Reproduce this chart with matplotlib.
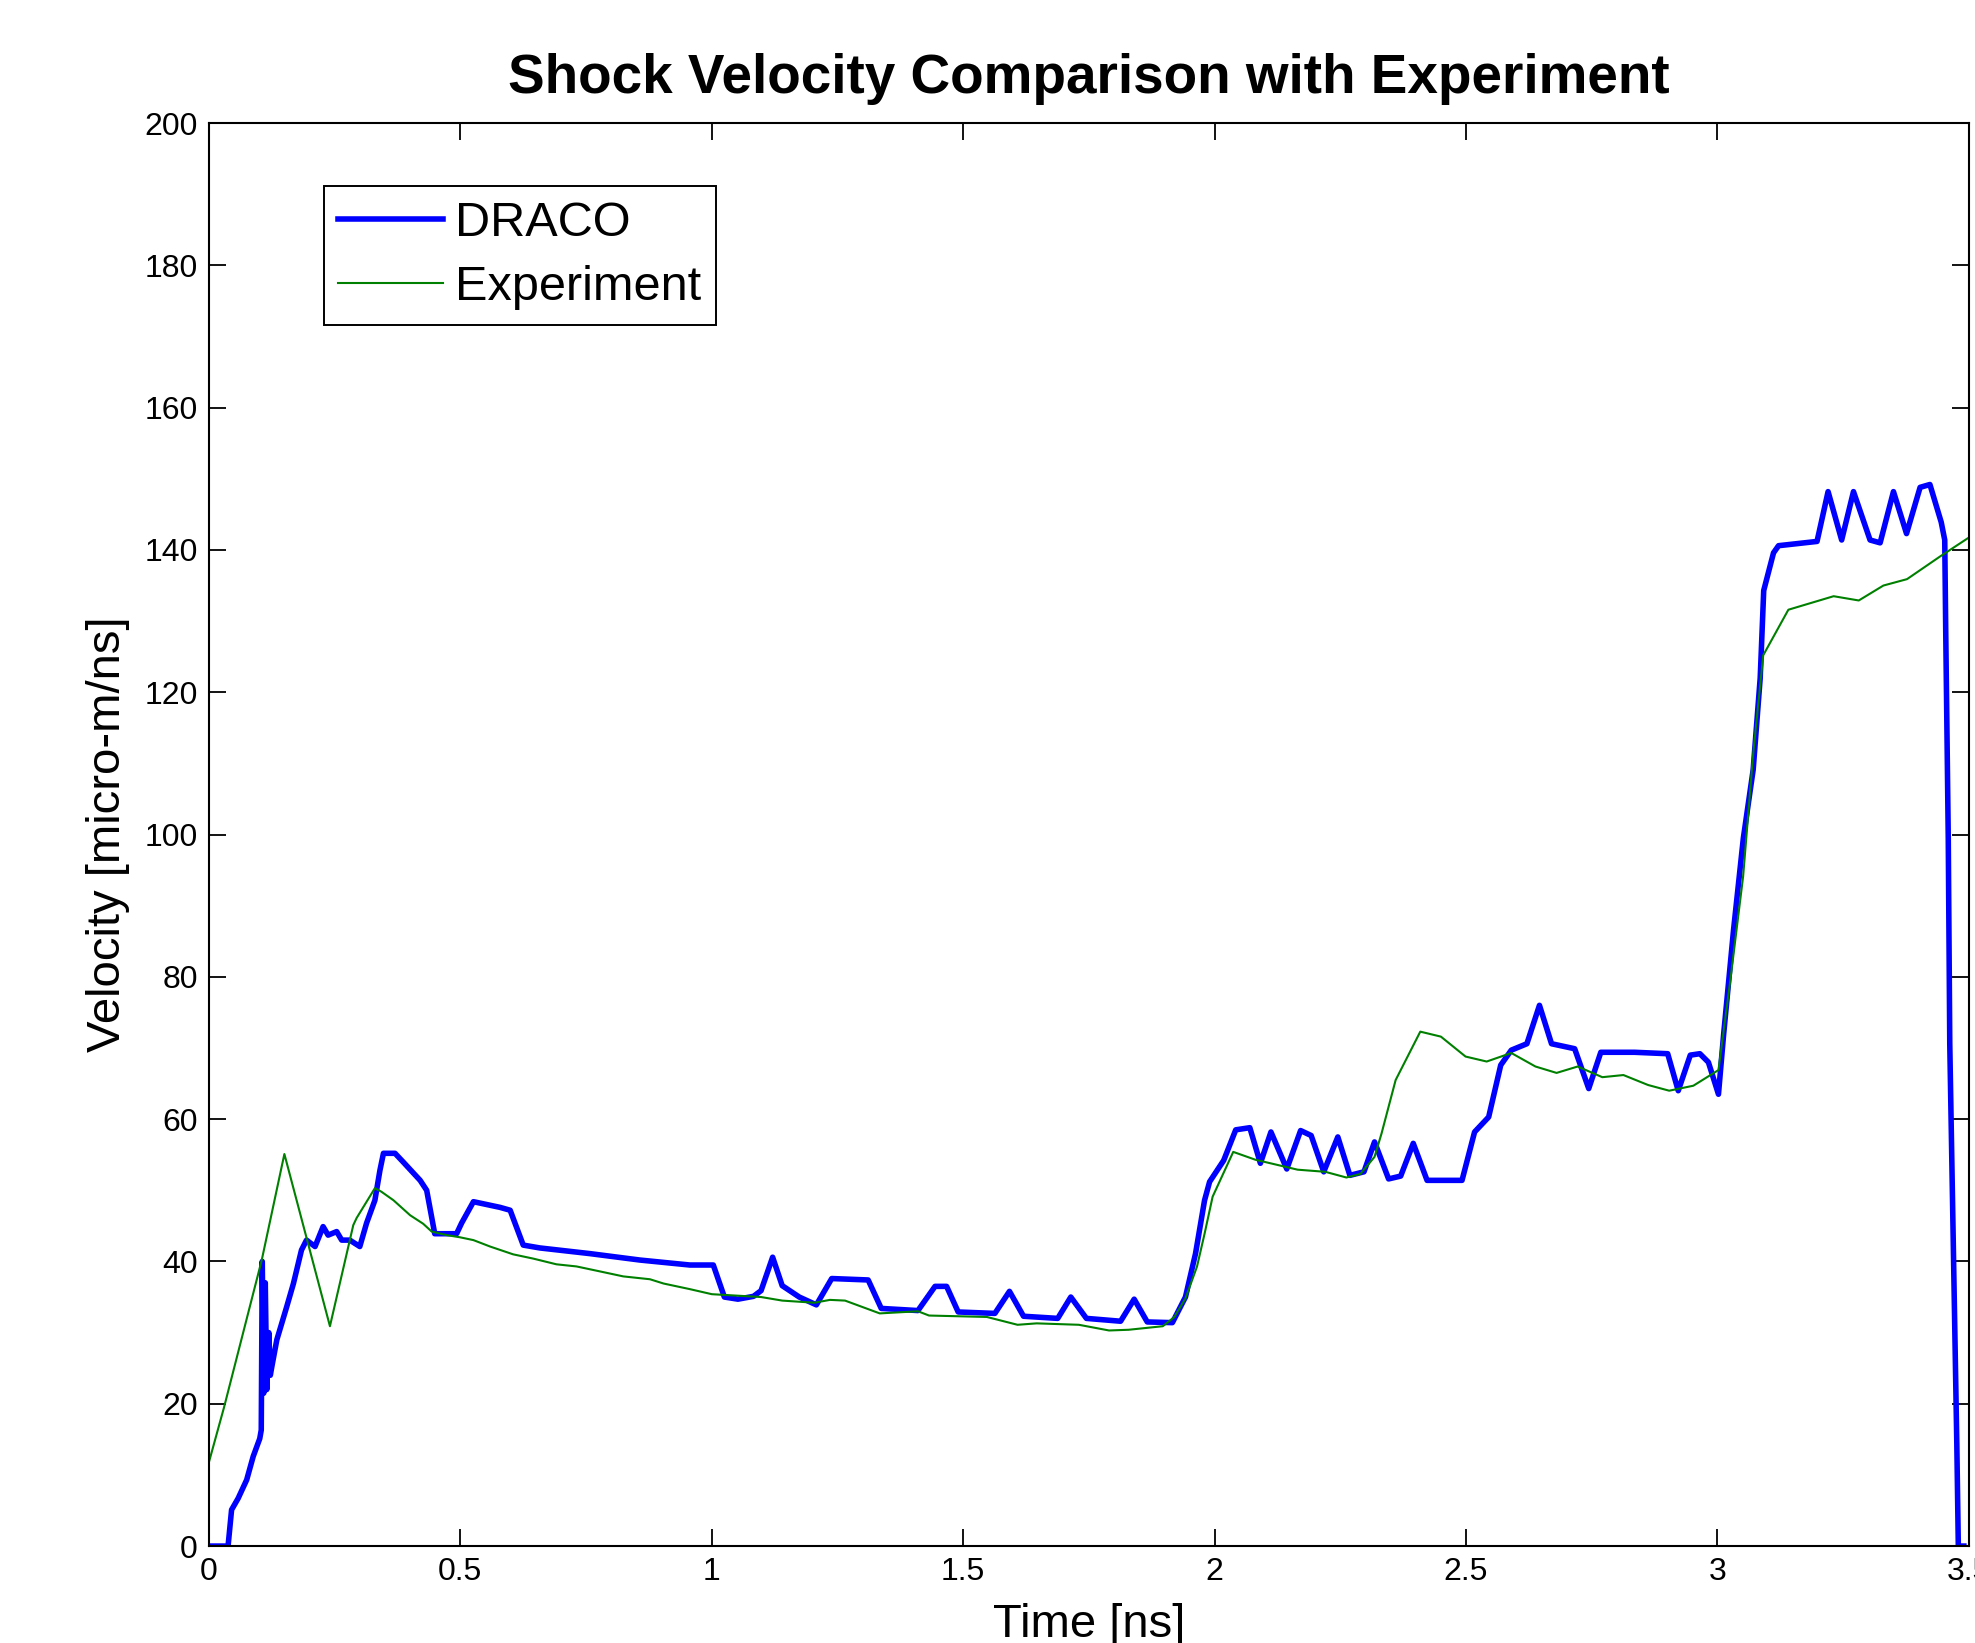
import matplotlib
matplotlib.use("Agg")
import matplotlib.pyplot as plt
from matplotlib.ticker import FormatStrFormatter

plt.rcParams["font.family"] = ["Liberation Sans", "DejaVu Sans"]

# DRACO simulation, shock velocity vs time
draco_t = [0.0, 0.038, 0.045, 0.058, 0.075, 0.088, 0.101, 0.104, 0.106, 0.109,
           0.112, 0.115, 0.119, 0.122, 0.125, 0.135, 0.1545, 0.168, 0.184, 0.194,
           0.211, 0.227, 0.237, 0.254, 0.264, 0.280, 0.300, 0.3135, 0.330, 0.340,
           0.347, 0.370, 0.386, 0.420, 0.433, 0.449, 0.4925, 0.5025, 0.526, 0.5455,
           0.579, 0.599, 0.625, 0.658, 0.758, 0.857, 0.9565, 1.003, 1.025, 1.052,
           1.083, 1.098, 1.121, 1.140, 1.174, 1.208, 1.2385, 1.311, 1.337, 1.410,
           1.444, 1.467, 1.490, 1.563, 1.592, 1.620, 1.688, 1.714, 1.745, 1.813,
           1.840, 1.866, 1.916, 1.942, 1.962, 1.980, 1.990, 2.018, 2.042, 2.070,
           2.091, 2.112, 2.1435, 2.171, 2.192, 2.217, 2.245, 2.269, 2.297, 2.318,
           2.346, 2.370, 2.395, 2.4225, 2.492, 2.517, 2.545, 2.569, 2.590, 2.621,
           2.646, 2.670, 2.716, 2.744, 2.768, 2.835, 2.901, 2.922, 2.946, 2.965,
           2.982, 3.002, 3.012, 3.032, 3.0515, 3.071, 3.085, 3.092, 3.1115, 3.1215,
           3.198, 3.220, 3.247, 3.2705, 3.3035, 3.3235, 3.350, 3.376, 3.403, 3.4225,
           3.445, 3.452, 3.454, 3.459, 3.462, 3.469, 3.476, 3.479, 3.49]
draco_v = [0.0, 0.0, 5.1, 6.7, 9.3, 12.6, 15.1, 16.3, 40.0, 21.5,
           37.0, 22.0, 30.0, 24.0, 25.2, 29.0, 33.6, 36.9, 41.6, 43.0,
           42.1, 44.9, 43.7, 44.2, 43.0, 43.0, 42.1, 45.4, 48.6, 52.8,
           55.2, 55.2, 54.0, 51.4, 50.0, 43.9, 43.9, 45.4, 48.4, 48.1,
           47.6, 47.2, 42.3, 41.9, 41.1, 40.2, 39.5, 39.5, 35.0, 34.7,
           35.1, 35.9, 40.6, 36.6, 35.0, 33.9, 37.6, 37.4, 33.4, 33.1,
           36.5, 36.5, 32.9, 32.7, 35.8, 32.3, 32.0, 35.0, 32.0, 31.6,
           34.7, 31.5, 31.4, 35.0, 41.1, 48.6, 51.2, 54.2, 58.5, 58.8,
           53.8, 58.2, 53.0, 58.4, 57.7, 52.6, 57.5, 52.1, 52.6, 56.8,
           51.6, 52.0, 56.6, 51.4, 51.4, 58.2, 60.3, 67.6, 69.7, 70.6,
           76.0, 70.6, 69.9, 64.3, 69.4, 69.4, 69.2, 64.0, 69.0, 69.2,
           68.0, 63.5, 71.7, 86.6, 99.5, 109.1, 122.0, 134.3, 139.6, 140.6,
           141.2, 148.2, 141.4, 148.2, 141.4, 141.0, 148.2, 142.3, 148.8, 149.2,
           143.9, 141.4, 128.4, 99.5, 70.6, 42.8, 14.4, 0.0, 0.0]

# Experimental shock velocity
exp_t = [0.0, 0.03, 0.105, 0.150, 0.2406, 0.287, 0.2936, 0.330, 0.343, 0.367,
         0.400, 0.426, 0.443, 0.473, 0.499, 0.526, 0.559, 0.605, 0.645, 0.691,
         0.731, 0.771, 0.824, 0.877, 0.904, 0.957, 1.000, 1.098, 1.140, 1.204,
         1.235, 1.265, 1.334, 1.410, 1.432, 1.547, 1.608, 1.646, 1.730, 1.790,
         1.829, 1.897, 1.920, 1.942, 1.965, 1.980, 1.996, 2.037, 2.081, 2.165,
         2.220, 2.262, 2.290, 2.318, 2.332, 2.360, 2.409, 2.450, 2.499, 2.541,
         2.590, 2.638, 2.680, 2.722, 2.771, 2.813, 2.862, 2.904, 2.952, 3.002,
         3.025, 3.051, 3.071, 3.091, 3.141, 3.231, 3.281, 3.330, 3.377, 3.443,
         3.499]
exp_v = [11.8, 19.5, 40.2, 55.1, 30.9, 45.1, 46.1, 50.3, 49.8, 48.6,
         46.5, 45.3, 44.2, 43.7, 43.4, 43.0, 42.1, 41.0, 40.4, 39.6,
         39.3, 38.7, 37.9, 37.5, 36.9, 36.1, 35.4, 35.0, 34.5, 34.2,
         34.6, 34.5, 32.7, 33.0, 32.4, 32.2, 31.1, 31.3, 31.1, 30.3,
         30.4, 30.9, 32.2, 34.8, 39.3, 43.9, 49.1, 55.4, 54.3, 52.9,
         52.6, 51.8, 52.3, 54.7, 58.0, 65.5, 72.3, 71.6, 68.8, 68.1,
         69.3, 67.4, 66.5, 67.4, 65.9, 66.2, 64.8, 64.0, 64.7, 66.9,
         79.2, 94.1, 111.3, 125.2, 131.6, 133.5, 132.9, 135.0, 135.9, 139.1,
         141.7]

x_ticks = [0, 0.5, 1, 1.5, 2, 2.5, 3, 3.5]
y_ticks = [0, 20, 40, 60, 80, 100, 120, 140, 160, 180, 200]

fig = plt.figure(figsize=(19.75, 16.43), dpi=100)
ax = fig.add_axes([0.1058, 0.0590, 0.8911, 0.8661])

ax.plot(draco_t, draco_v, color=(0, 0, 1), linewidth=4, label="DRACO")
ax.plot(exp_t, exp_v, color=(0, 0.5, 0), linewidth=1.5, label="Experiment")

ax.set_xlim(0, 3.5)
ax.set_ylim(0, 200)
ax.set_xticks(x_ticks)
ax.set_yticks(y_ticks)
ax.xaxis.set_major_formatter(FormatStrFormatter("%g"))
ax.tick_params(direction="in", length=12, width=1.3, top=True, right=True,
               labelsize=23, pad=8, colors="black")
for sp in ax.spines.values():
    sp.set_linewidth(1.5)
    sp.set_color("black")

ax.set_title("Shock Velocity Comparison with Experiment", fontsize=39.5,
             fontweight="bold", pad=22)
ax.set_xlabel("Time [ns]", fontsize=34)
ax.set_ylabel("Velocity [micro-m/ns]", fontsize=34)
ax.xaxis.set_label_coords(0.5, -0.040)
ax.yaxis.set_label_coords(-0.045, 0.5)

leg = ax.legend(loc="upper left", bbox_to_anchor=(0.0653, 0.9557),
                borderaxespad=0, fontsize=35, fancybox=False, framealpha=1,
                edgecolor="black", handlelength=2.15, handletextpad=0.25,
                borderpad=0.3, labelspacing=0.4)
leg.get_frame().set_linewidth(1.4)

fig.savefig("out.png", dpi=100)
